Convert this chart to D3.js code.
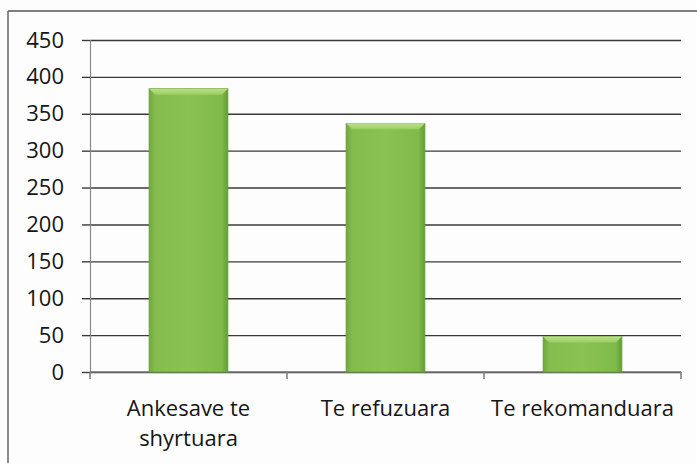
<!DOCTYPE html>
<html>
<head>
<meta charset="utf-8">
<script src="https://cdn.jsdelivr.net/npm/d3@7"></script>
<style>
  body { margin: 0; background: #fdfdfd; }
  text { font-family: "Open Sans", "Liberation Sans", sans-serif; fill: #151515; }
</style>
</head>
<body>
<div id="container"></div>
<script>
// chart data
var categories = ["Ankesave te shyrtuara", "Te refuzuara", "Te rekomanduara"];
var labelLines = [["Ankesave te", "shyrtuara"], ["Te refuzuara"], ["Te rekomanduara"]];
var values = [384, 337, 48];
var yTicks = [0, 50, 100, 150, 200, 250, 300, 350, 400, 450];

var W = 697, H = 463;
var margin = { top: 40, right: 16, bottom: 91, left: 90 },
    width = W - margin.left - margin.right,
    height = H - margin.top - margin.bottom;

var svg = d3.select("#container").append("svg")
    .attr("width", W)
    .attr("height", H);

// gradient for the bars
var defs = svg.append("defs");
var grad = defs.append("linearGradient")
    .attr("id", "barGrad")
    .attr("x1", 0).attr("x2", 1).attr("y1", 0).attr("y2", 0);
grad.append("stop").attr("offset", "0%").attr("stop-color", "#70a83e");
grad.append("stop").attr("offset", "8%").attr("stop-color", "#84bc4e");
grad.append("stop").attr("offset", "50%").attr("stop-color", "#8ac354");
grad.append("stop").attr("offset", "92%").attr("stop-color", "#80ba4b");
grad.append("stop").attr("offset", "100%").attr("stop-color", "#639d36");

var topGrad = defs.append("linearGradient")
    .attr("id", "topGrad")
    .attr("x1", 0).attr("x2", 0).attr("y1", 0).attr("y2", 1);
topGrad.append("stop").attr("offset", "0%").attr("stop-color", "#bbe088");
topGrad.append("stop").attr("offset", "100%").attr("stop-color", "#9acd64");

// outer frame (only top and left visible)
svg.append("line")
    .attr("x1", 8).attr("x2", W).attr("y1", 11).attr("y2", 11)
    .attr("stroke", "#555").attr("stroke-width", 1.5);
svg.append("line")
    .attr("x1", 8).attr("x2", 8).attr("y1", 11).attr("y2", H)
    .attr("stroke", "#666").attr("stroke-width", 1.5);

var g = svg.append("g")
    .attr("transform", "translate(" + margin.left + "," + margin.top + ")");

// scales
var x = d3.scaleBand()
    .domain(categories)
    .range([0, width])
    .paddingInner(0.6)
    .paddingOuter(0.3);

var y = d3.scaleLinear()
    .domain([0, 450])
    .range([height, 0]);

// gridlines
g.append("g")
    .attr("class", "grid")
    .call(d3.axisLeft(y).tickValues(yTicks).tickSize(-width).tickFormat(""))
    .call(function(s) { s.select(".domain").remove(); })
    .selectAll("line")
    .attr("stroke", "#3a3a3a")
    .attr("stroke-width", 1.4);

// y axis with labels
var yAxis = g.append("g")
    .attr("class", "y axis")
    .call(d3.axisLeft(y).tickValues(yTicks).tickSize(8).tickPadding(18));
yAxis.select(".domain").attr("stroke", "#888").attr("stroke-width", 1.2);
yAxis.selectAll(".tick line").attr("stroke", "#3a3a3a").attr("stroke-width", 1.4);
yAxis.selectAll("text")
    .style("font-size", "22px")
    .attr("fill", "#151515");

// x axis: ticks at band edges
var step = x.step();
var edges = d3.range(categories.length + 1).map(function(i) { return i * step; });
var xg = g.append("g")
    .attr("transform", "translate(0," + height + ")");
xg.append("line")
    .attr("x1", 0).attr("x2", width)
    .attr("stroke", "#777").attr("stroke-width", 1.5);
xg.selectAll(".etick")
    .data(edges)
    .enter().append("line")
    .attr("class", "etick")
    .attr("x1", function(d) { return d; })
    .attr("x2", function(d) { return d; })
    .attr("y1", 0).attr("y2", 7)
    .attr("stroke", "#777").attr("stroke-width", 1.5);

// category labels
xg.selectAll(".clabel")
    .data(categories)
    .enter().append("text")
    .attr("class", "clabel")
    .attr("text-anchor", "middle")
    .attr("transform", function(d) { return "translate(" + (x(d) + x.bandwidth() / 2) + ",0)"; })
    .style("font-size", "22px")
    .each(function(d, i) {
        var t = d3.select(this);
        labelLines[i].forEach(function(line, j) {
            t.append("tspan").attr("x", 0).attr("y", 44 + j * 30).text(line);
        });
    });

// bars
var bars = g.selectAll(".bar")
    .data(values)
    .enter().append("g")
    .attr("class", "bar");

bars.append("rect")
    .attr("x", function(d, i) { return x(categories[i]); })
    .attr("y", function(d) { return y(d); })
    .attr("width", x.bandwidth())
    .attr("height", function(d) { return height - y(d); })
    .attr("fill", "url(#barGrad)")
    .attr("stroke", "#64a038")
    .attr("stroke-width", 0.8);

// top bevel
bars.append("path")
    .attr("d", function(d, i) {
        var x0 = x(categories[i]), x1 = x0 + x.bandwidth(), y0 = y(d), b = 6;
        return "M" + x0 + "," + y0 + "L" + x1 + "," + y0 + "L" + (x1 - b) + "," + (y0 + b) +
               "L" + (x0 + b) + "," + (y0 + b) + "Z";
    })
    .attr("fill", "url(#topGrad)");
</script>
</body>
</html>
